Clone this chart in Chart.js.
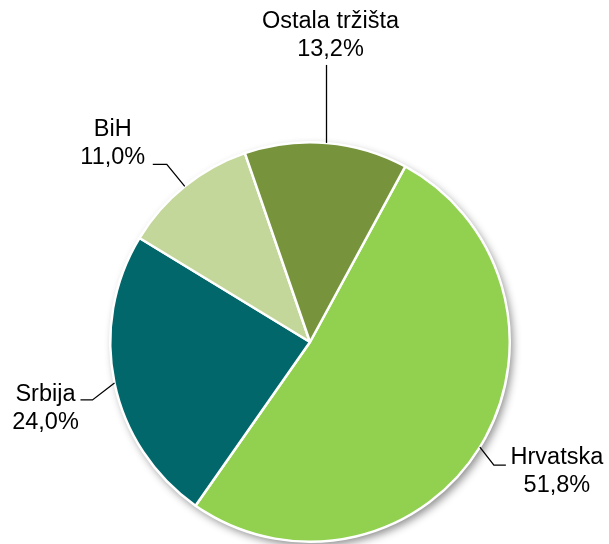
<!DOCTYPE html>
<html>
<head>
<meta charset="utf-8">
<script src="https://cdn.jsdelivr.net/npm/chart.js@4"></script>
<style>
  body { margin: 0; background: #fff; }
  #pie { display: block; }
</style>
</head>
<body>
<canvas id="pie" width="609" height="544"></canvas>
<script>
var labels = ["Hrvatska", "Srbija", "BiH", "Ostala tržišta"];
var shares = [51.8, 24.0, 11.0, 13.2];
var colors = ["#92D050", "#02676A", "#C4D79B", "#77933C"];

// label placement relative to the slice's edge point (leader elbow, line end, text centre)
var labelPos = [
  { elbow: [14, 18], end: [26, 18], text: [77, 24] },
  { elbow: [-22, 17], end: [-34, 17], text: [-69, 26] },
  { elbow: [-18, -22], end: [-32, -22], text: [-72, -43] },
  { elbow: [0, -78], end: [0, -78], text: [4, -107] }
];

function fmt(v) {
  return v.toFixed(1).replace(".", ",") + "%";
}

var shadowPlugin = {
  id: "shadow",
  beforeDatasetsDraw: function (chart) {
    var arc = chart.getDatasetMeta(0).data[0];
    if (!arc) return;
    var c = chart.ctx;
    c.save();
    c.shadowColor = "rgba(0,0,0,0.45)";
    c.shadowBlur = 9;
    c.shadowOffsetX = 3;
    c.shadowOffsetY = 4;
    c.fillStyle = "#fff";
    c.beginPath();
    c.arc(arc.x, arc.y, arc.outerRadius, 0, Math.PI * 2);
    c.fill();
    c.restore();
  }
};

var labelPlugin = {
  id: "outLabels",
  afterDatasetsDraw: function (chart) {
    var c = chart.ctx;
    var meta = chart.getDatasetMeta(0);
    c.save();
    c.font = "23.5px 'Liberation Sans', Arial, sans-serif";
    c.fillStyle = "#000";
    c.strokeStyle = "#000";
    c.lineWidth = 1.3;
    c.textAlign = "center";
    c.textBaseline = "middle";
    meta.data.forEach(function (arc, i) {
      var mid = (arc.startAngle + arc.endAngle) / 2;
      var ax = arc.x + Math.cos(mid) * arc.outerRadius;
      var ay = arc.y + Math.sin(mid) * arc.outerRadius;
      var p = labelPos[i];
      c.beginPath();
      c.moveTo(ax, ay);
      c.lineTo(ax + p.elbow[0], ay + p.elbow[1]);
      c.lineTo(ax + p.end[0], ay + p.end[1]);
      c.stroke();
      var tx = ax + p.text[0], ty = ay + p.text[1];
      c.fillText(labels[i], tx, ty - 14);
      c.fillText(fmt(shares[i]), tx, ty + 14);
    });
    c.restore();
  }
};

new Chart(document.getElementById("pie"), {
  type: "pie",
  data: {
    labels: labels,
    datasets: [{
      data: shares,
      backgroundColor: colors,
      borderColor: "#fff",
      borderWidth: 2.5
    }]
  },
  options: {
    responsive: false,
    animation: false,
    rotation: 28.5,
    layout: { padding: { left: 108, right: 97, top: 141, bottom: 1 } },
    plugins: {
      legend: { display: false },
      tooltip: { enabled: false }
    }
  },
  plugins: [shadowPlugin, labelPlugin]
});
</script>
</body>
</html>
